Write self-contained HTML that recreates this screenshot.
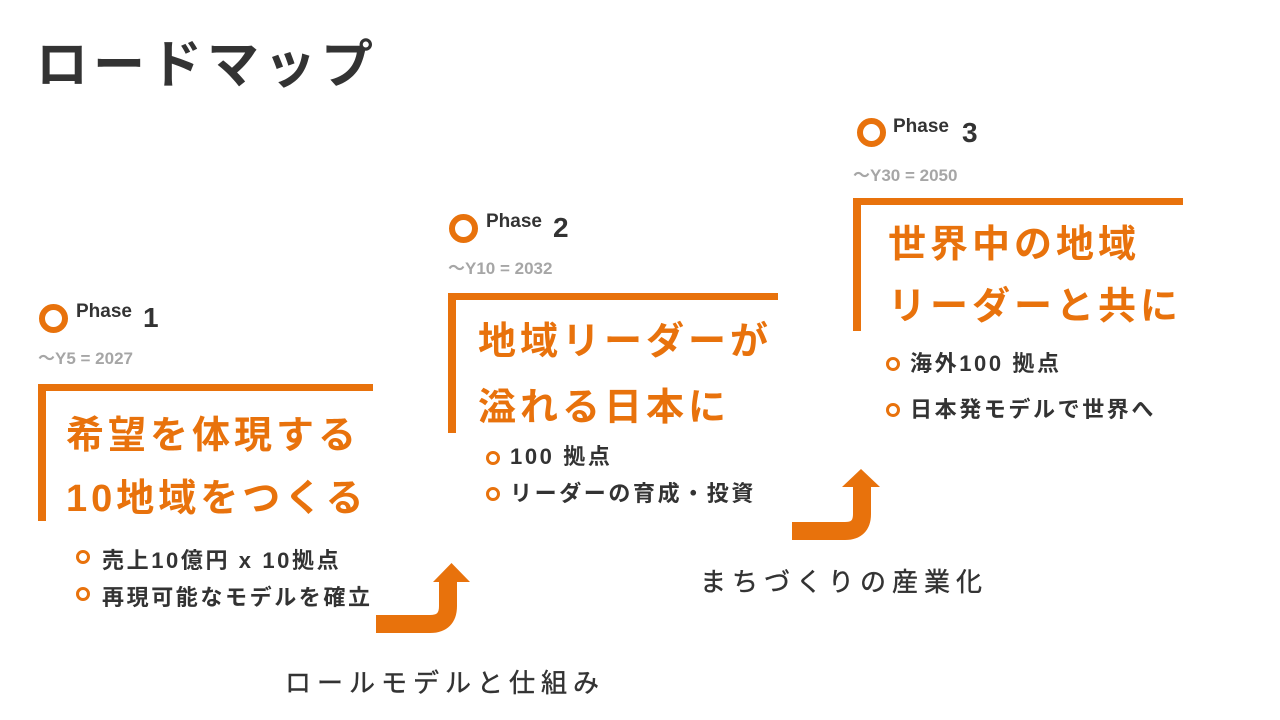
<!DOCTYPE html>
<html><head><meta charset="utf-8"><style>
*{margin:0;padding:0}
body{width:1280px;height:720px;background:#fff;position:relative;overflow:hidden;font-family:"Liberation Sans","Noto Sans CJK JP",sans-serif;color:#333}
.a{position:absolute;white-space:nowrap}
.ring{position:absolute;border:6px solid #e8720c;border-radius:50%;width:17px;height:17px}
.sring{position:absolute;border:3px solid #e8720c;border-radius:50%;width:8px;height:8px}
.ph{font-size:19px;font-weight:bold;color:#333}
.num{font-size:28px;font-weight:bold;color:#333}
.yr{font-size:17px;font-weight:bold;color:#a6a6a6}
.bar{position:absolute;background:#e8720c}
.big{font-size:38px;font-weight:bold;color:#e8720c;letter-spacing:4px;line-height:44px}
.bl{font-size:22px;font-weight:bold;color:#333;letter-spacing:2.6px;line-height:26px}
.lab{font-size:26px;color:#333;letter-spacing:6px;line-height:32px;-webkit-text-stroke:0.4px #333}
</style></head><body>
<div class="a" style="left:36px;top:36px;font-size:52px;font-weight:bold;letter-spacing:5px;line-height:60px;color:#333">ロードマップ</div>

<!-- Phase 1 -->
<div class="ring" style="left:39px;top:304px"></div>
<div class="a ph" style="left:76px;top:301px">Phase</div>
<div class="a num" style="left:143px;top:302px">1</div>
<div class="a yr" style="left:38px;top:344px">～Y5 = 2027</div>
<div class="bar" style="left:38px;top:384px;width:335px;height:7px"></div>
<div class="bar" style="left:38px;top:384px;width:8px;height:137px"></div>
<div class="a big" style="left:66px;top:414px">希望を体現する</div>
<div class="a big" style="left:66px;top:477px">10地域をつくる</div>
<div class="sring" style="left:76px;top:550px"></div>
<div class="a bl" style="left:102px;top:548px">売上10億円 x 10拠点</div>
<div class="sring" style="left:76px;top:587px"></div>
<div class="a bl" style="left:102px;top:585px">再現可能なモデルを確立</div>

<!-- Phase 2 -->
<div class="ring" style="left:449px;top:214px"></div>
<div class="a ph" style="left:486px;top:211px">Phase</div>
<div class="a num" style="left:553px;top:212px">2</div>
<div class="a yr" style="left:448px;top:254px">～Y10 = 2032</div>
<div class="bar" style="left:448px;top:293px;width:330px;height:7px"></div>
<div class="bar" style="left:448px;top:293px;width:8px;height:140px"></div>
<div class="a big" style="left:478px;top:320px">地域リーダーが</div>
<div class="a big" style="left:478px;top:386px">溢れる日本に</div>
<div class="sring" style="left:486px;top:451px"></div>
<div class="a bl" style="left:510px;top:444px">100 拠点</div>
<div class="sring" style="left:486px;top:487px"></div>
<div class="a bl" style="left:510px;top:481px">リーダーの育成・投資</div>

<!-- Phase 3 -->
<div class="ring" style="left:857px;top:118px"></div>
<div class="a ph" style="left:893px;top:116px">Phase</div>
<div class="a num" style="left:962px;top:117px">3</div>
<div class="a yr" style="left:853px;top:161px">～Y30 = 2050</div>
<div class="bar" style="left:853px;top:198px;width:330px;height:7px"></div>
<div class="bar" style="left:853px;top:198px;width:8px;height:133px"></div>
<div class="a big" style="left:888px;top:223px">世界中の地域</div>
<div class="a big" style="left:888px;top:285px">リーダーと共に</div>
<div class="sring" style="left:886px;top:357px"></div>
<div class="a bl" style="left:910px;top:351px">海外100 拠点</div>
<div class="sring" style="left:886px;top:403px"></div>
<div class="a bl" style="left:910px;top:397px">日本発モデルで世界へ</div>

<!-- arrows -->
<svg class="a" style="left:0;top:0" width="1280" height="720">
<path d="M376 624 H430 Q448 624 448 606 V580" fill="none" stroke="#e8720c" stroke-width="18"/>
<polygon points="433,582 470,582 451.5,563" fill="#e8720c"/>
<path d="M792 531 H845 Q862 531 862 514 V485" fill="none" stroke="#e8720c" stroke-width="18"/>
<polygon points="842,487 880,487 861,469" fill="#e8720c"/>
</svg>

<div class="a lab" style="left:285px;top:667px">ロールモデルと仕組み</div>
<div class="a lab" style="left:700px;top:566px">まちづくりの産業化</div>
</body></html>
